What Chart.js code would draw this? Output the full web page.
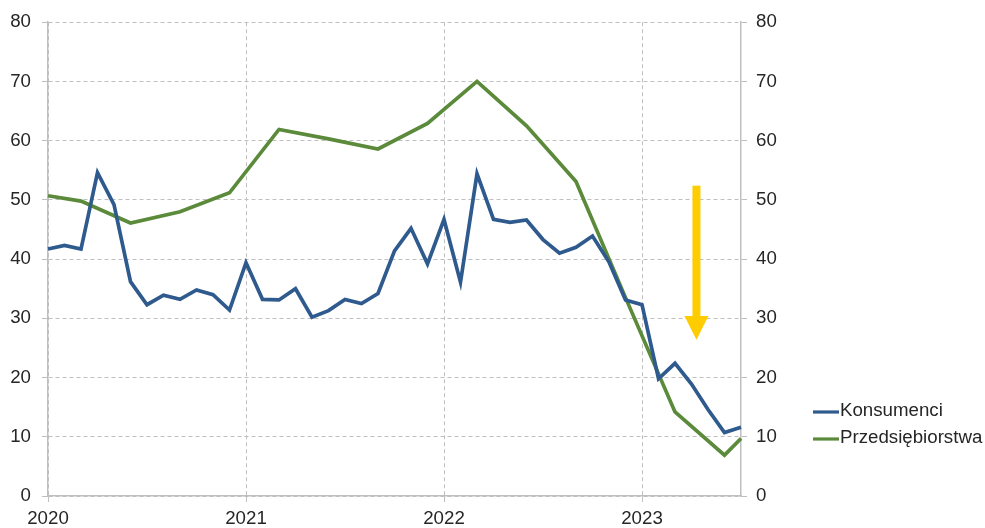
<!DOCTYPE html>
<html>
<head>
<meta charset="utf-8">
<script src="https://cdn.jsdelivr.net/npm/chart.js@4"></script>
<style>
  html, body { margin: 0; padding: 0; background: #fff; }
  #box { width: 985px; height: 528px; position: relative; }
</style>
</head>
<body>
<div id="box"><canvas id="wykres" width="985" height="528"></canvas></div>
<script>
// miesiace od 2020-01 do 2023-07
const miesiace = [];
for (let r = 2020; r <= 2023; r++) {
    for (let m = 1; m <= 12; m++) {
        if (r === 2023 && m > 7) break;
        miesiace.push(r + '-' + String(m).padStart(2, '0'));
    }
}

const konsumenci = [
    41.7, 42.3, 41.7, 54.6, 49.2, 36.2, 32.3, 33.9, 33.2, 34.8, 34.0, 31.4,
    39.4, 33.2, 33.1, 35.0, 30.2, 31.3, 33.2, 32.5, 34.2, 41.4, 45.2, 39.2,
    46.7, 36.1, 54.4, 46.7, 46.2, 46.6, 43.3, 41.0, 42.0, 43.9, 39.5, 33.1,
    32.3, 19.8, 22.4, 18.9, 14.6, 10.7, 11.6
];

// dane kwartalne, puste miesiace = null
const przedsiebiorstwa = [
    50.7, null, 49.8, null, null, 46.1, null, null, 48.0, null, null, 51.2,
    null, null, 61.9, null, null, 60.3, null, null, 58.6, null, null, 62.9,
    null, null, 70.0, null, null, 62.5, null, null, 53.1, null, null, 33.5,
    null, null, 14.2, null, null, 6.9, 9.7
];

const osY = [0, 80, 10];
// strzalka w jednostkach danych
const strzalka = { x: 39.3, od: 52.4, podstawa: 30.4, grot: 26.4 };

const czcionka = { family: 'Liberation Sans, Arial, sans-serif', size: 18.7 };
const szary = '#bfbfbf';
const tekst = '#262626';

const pluginStrzalka = {
    id: 'strzalka',
    afterDatasetsDraw(chart) {
        const ctx = chart.ctx;
        const x = chart.scales.x.getPixelForValue(strzalka.x);
        const y = chart.scales.y;
        const yOd = y.getPixelForValue(strzalka.od);
        const yPod = y.getPixelForValue(strzalka.podstawa);
        const yGrot = y.getPixelForValue(strzalka.grot);
        ctx.save();
        ctx.fillStyle = '#ffcc00';
        ctx.fillRect(x - 4, yOd, 8, yPod - yOd + 1);
        ctx.beginPath();
        ctx.moveTo(x - 12, yPod);
        ctx.lineTo(x + 12, yPod);
        ctx.lineTo(x, yGrot);
        ctx.closePath();
        ctx.fill();
        ctx.restore();
    }
};

const pluginLegenda = {
    id: 'legenda',
    afterDraw(chart) {
        const ctx = chart.ctx;
        const x0 = chart.chartArea.right + 72;
        let yy = 411;
        ctx.save();
        ctx.font = czcionka.size + 'px ' + czcionka.family;
        ctx.textBaseline = 'middle';
        chart.data.datasets.forEach(ds => {
            ctx.strokeStyle = ds.borderColor;
            ctx.lineWidth = 3.2;
            ctx.beginPath();
            ctx.moveTo(x0, yy + 1);
            ctx.lineTo(x0 + 26, yy + 1);
            ctx.stroke();
            ctx.fillStyle = tekst;
            ctx.fillText(ds.label, x0 + 27, yy);
            yy += 27;
        });
        ctx.restore();
    }
};

document.addEventListener('DOMContentLoaded', function () {
    const ctx = document.getElementById('wykres').getContext('2d');
    new Chart(ctx, {
        type: 'line',
        data: {
            labels: miesiace,
            datasets: [{
                label: 'Konsumenci',
                data: konsumenci,
                borderColor: '#2e5a8e',
                borderWidth: 3.7,
                pointRadius: 0,
                tension: 0,
                yAxisID: 'y'
            }, {
                label: 'Przedsiębiorstwa',
                data: przedsiebiorstwa,
                borderColor: '#5a8a3a',
                borderWidth: 3.7,
                pointRadius: 0,
                tension: 0,
                spanGaps: true,
                yAxisID: 'y'
            }]
        },
        options: {
            responsive: false,
            animation: false,
            layout: { padding: { top: 21, right: 194, left: 0, bottom: 0 } },
            plugins: {
                legend: { display: false },
                tooltip: { enabled: false }
            },
            scales: {
                x: {
                    offset: false,
                    afterFit: s => { s.height = 32; },
                    ticks: {
                        autoSkip: false,
                        maxRotation: 0,
                        padding: 6,
                        color: tekst,
                        font: czcionka,
                        callback: function (v, i) {
                            return i % 12 === 0 ? miesiace[i].slice(0, 4) : '';
                        }
                    },
                    grid: {
                        color: c => (c.index % 12 === 0 ? szary : 'rgba(0,0,0,0)'),
                        tickColor: c => (c.index % 12 === 0 ? szary : 'rgba(0,0,0,0)'),
                        tickLength: 6,
                        lineWidth: 1
                    },
                    border: { display: true, color: szary, width: 1.5, dash: [4, 3] }
                },
                y: {
                    position: 'left',
                    min: osY[0], max: osY[1],
                    afterFit: s => { s.width = 48; },
                    ticks: { stepSize: osY[2], padding: 11, color: tekst, font: czcionka },
                    grid: { color: szary, tickColor: szary, tickLength: 6, lineWidth: 1 },
                    border: { display: true, color: szary, width: 1.5, dash: [4, 3] }
                },
                y2: {
                    position: 'right',
                    min: osY[0], max: osY[1],
                    afterFit: s => { s.width = 50; },
                    ticks: { stepSize: osY[2], padding: 9, color: tekst, font: czcionka },
                    grid: { drawOnChartArea: false, tickColor: szary, tickLength: 6 },
                    border: { display: true, color: szary, width: 1.5 }
                }
            }
        },
        plugins: [pluginStrzalka, pluginLegenda]
    });
});
</script>
</body>
</html>
